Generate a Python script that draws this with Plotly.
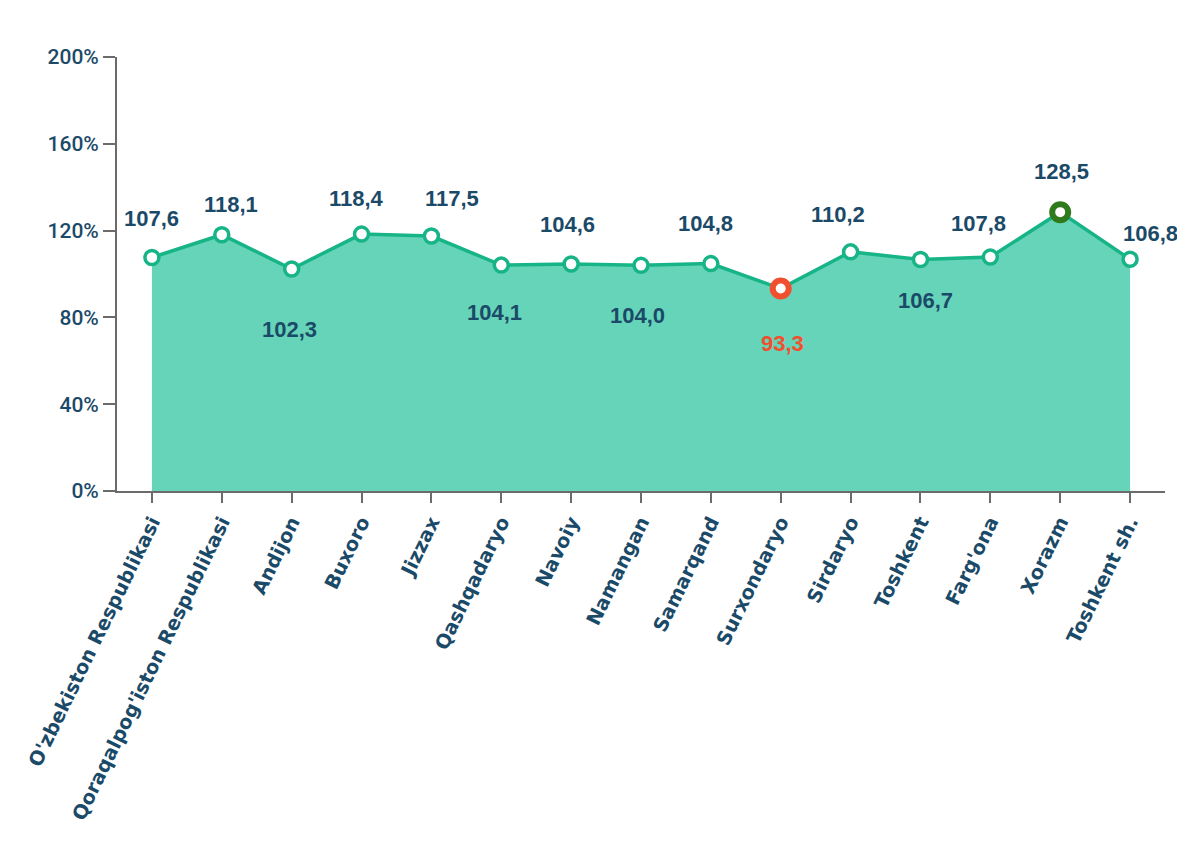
import plotly.graph_objects as go

categories = ["O'zbekiston Respublikasi", "Qoraqalpog'iston Respublikasi", "Andijon", "Buxoro",
              "Jizzax", "Qashqadaryo", "Navoiy", "Namangan", "Samarqand", "Surxondaryo",
              "Sirdaryo", "Toshkent", "Farg'ona", "Xorazm", "Toshkent sh."]
values = [107.6, 118.1, 102.3, 118.4, 117.5, 104.1, 104.6, 104.0, 104.8, 93.3,
          110.2, 106.7, 107.8, 128.5, 106.8]
y_ticks = [0, 40, 80, 120, 160, 200]

# style (not data): label offsets in pixels and marker emphasis
label_yshift = [39, 30, -60, 36, 38, -47, 40, -50, 40, -55, 37, -41, 34, 41, 26]
label_xshift = [0, 9, -2, -5, 21, -7, -4, -4, -5, 2, -13, 5, -12, 1, 20]
marker_edge = ["#17b487"] * 15
marker_edge[9] = "#f0502f"
marker_edge[13] = "#2f7a1c"
marker_size = [14] * 15
marker_size[9] = 16
marker_size[13] = 16
marker_lw = [3.5] * 15
marker_lw[9] = 6
marker_lw[13] = 6
label_color = ["#1b4a68"] * 15
label_color[9] = "#f0502f"

x_idx = list(range(len(categories)))

fig = go.Figure()
fig.add_trace(go.Scatter(
    x=x_idx, y=values, mode="lines", fill="tozeroy",
    fillcolor="#66d4b8",
    line=dict(color="#17b487", width=3.5),
    hoverinfo="skip", showlegend=False,
))
fig.add_trace(go.Scatter(
    x=x_idx, y=values, mode="markers",
    marker=dict(color="#ffffff", size=marker_size, opacity=1,
                line=dict(color=marker_edge, width=marker_lw)),
    hoverinfo="skip", showlegend=False,
))

for i, v in enumerate(values):
    fig.add_annotation(
        x=i, y=v, text=f"{v:.1f}".replace(".", ","), showarrow=False,
        yshift=label_yshift[i], xshift=label_xshift[i],
        font=dict(family="Liberation Sans, Arial", size=22, color=label_color[i], weight="bold"),
    )

fig.update_layout(
    width=1185, height=841,
    margin=dict(l=109, r=28, t=49, b=358),
    plot_bgcolor="white", paper_bgcolor="white",
    xaxis=dict(
        range=[-0.5, 14.5], tickmode="array", tickvals=x_idx, ticktext=categories,
        tickangle=-64, showgrid=False, zeroline=False,
        showline=True, linecolor="#6b6b6b", linewidth=2,
        ticks="outside", ticklen=10, tickwidth=2, tickcolor="#6b6b6b",
        tickfont=dict(family="DejaVu Sans", size=19.5, color="#1b4a68", weight="bold"),
    ),
    yaxis=dict(
        range=[0, 200], tickmode="array", tickvals=y_ticks,
        ticktext=[f"{t}%" for t in y_ticks],
        showgrid=False, zeroline=False,
        showline=True, linecolor="#6b6b6b", linewidth=2,
        ticks="outside", ticklen=12, tickwidth=2, tickcolor="#6b6b6b",
        tickfont=dict(family="Roboto", size=21, color="#1b4a68", weight=500),
    ),
)

fig.write_html("out.html")
